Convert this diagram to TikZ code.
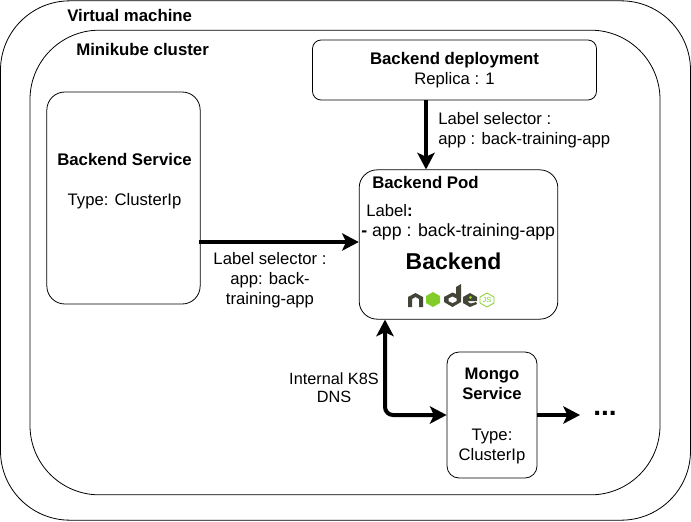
\documentclass[tikz,border=0pt]{standalone}
\usepackage{fontspec}
\setmainfont{Liberation Sans}
\usetikzlibrary{arrows.meta}
\definecolor{boxline}{RGB}{0,0,0}
\definecolor{nodedark}{RGB}{68,68,56}
\definecolor{nodegreen}{RGB}{131,205,41}

\begin{document}
\begin{tikzpicture}[
  x=0.75pt, y=-0.75pt,
  framebox/.style={draw=boxline, fill=white, line width=0.6pt, inner sep=0pt},
  roundbox/.style={framebox, rounded corners=13.5pt},
  heading/.style={font=\fontsize{12.6}{15}\selectfont\bfseries, inner sep=0pt, anchor=west},
  note/.style={font=\fontsize{12.5}{15}\selectfont, align=center, inner sep=0pt},
  flow/.style={line width=3pt, -{Stealth[length=12.5pt,width=13pt,inset=3pt]}}
]
  \useasboundingbox (0,0) rectangle (691,521);

  % nested frames
  \node[framebox, rounded corners=52pt, minimum width=517.5pt, minimum height=389.5pt] (vm) at (345.5,260.5) {};
  \node[framebox, rounded corners=52pt, minimum width=472.5pt, minimum height=348.5pt] (cluster) at (345,262.5) {};
  \node[heading] (vmtitle) at (67,15) {Virtual machine};
  \node[heading] (clustertitle) at (76,49) {Minikube cluster};

  % boxes
  \node[roundbox, minimum width=213pt, minimum height=45pt, rounded corners=6.5pt] (deploy) at (454.5,70) {};
  \node[note] (deploytext) at (454.5,70) {{\fontsize{12.6}{15}\selectfont\textbf{Backend deployment}}\\Replica : 1};
  \node[roundbox, minimum width=115pt, minimum height=159pt] (svc) at (123.5,198) {};
  \node[note] (svctext) at (124.5,181) {{\fontsize{12.6}{15}\selectfont\textbf{Backend Service}}\\[15pt]Type: ClusterIp};
  \node[roundbox, minimum width=149pt, minimum height=112pt] (pod) at (458.5,244.5) {};
  \node[roundbox, minimum width=67.5pt, minimum height=94.5pt, rounded corners=9pt] (mongo) at (492,415) {};
  \node[note] (mongotext) at (492,416) {\textbf{Mongo}\\\textbf{Service}\\[15.5pt]Type:\\ClusterIp};

  % pod contents
  \node[heading] (podtitle) at (372,182) {Backend Pod};
  \node[note, anchor=west] (podlabel) at (366,211) {Label\textbf{:}};
  \node[note, anchor=west, font=\fontsize{13.3}{15}\selectfont] (podapp) at (361,232) {\textbf{-} app : back-training-app};
  \node[note, font=\fontsize{17.2}{18}\selectfont\bfseries] (podname) at (453.5,261) {Backend};

  % logo
  \begin{scope}[shift={(408,284)}]
    \fill[nodedark] (0,23) -- (0,13) -- (7.5,9) -- (15,13) -- (15,23) -- (11,23) -- (11,15) -- (7.5,13) -- (4,15) -- (4,23) -- cycle;
    \fill[nodegreen] (25,8) -- (32,12) -- (32,19) -- (25,23) -- (18,19) -- (18,12) -- cycle;
    \fill[nodedark] (53,0) -- (53,18) -- (44.5,23) -- (36,18) -- (36,13) -- (44.5,8.5) -- (48,10) -- (48,3) -- cycle;
    \fill[white] (44.5,12.5) -- (48.5,14.5) -- (48.5,17) -- (44.5,19) -- (40.5,17) -- (40.5,14.5) -- cycle;
    \fill[nodedark] (62,9) -- (69,13) -- (69,17) -- (60,17) -- (60,18) -- (63,19.5) -- (68,18) -- (69,20) -- (62,23) -- (55,19) -- (55,13) -- cycle;
    \fill[nodegreen] (62.5,13.5) circle (1.7);
    \draw[nodegreen, line width=0.6pt] (79,9) -- (86,13) -- (86,19) -- (79,23) -- (72,19) -- (72,13) -- cycle;
    \node[text=nodegreen, inner sep=0pt, font=\fontsize{5.5}{6}\selectfont] (logojs) at (79,16) {JS};
  \end{scope}

  % connectors
  \draw[flow] (deploy.south -| 426,0) -- (pod.north -| 426,0);
  \draw[flow] ([xshift=-1.5pt]svc.east |- 0,242) -- (pod.west |- 0,242);
  \draw[line width=3pt, {Stealth[length=12.5pt,width=13pt,inset=3pt]}-{Stealth[length=12.5pt,width=13pt,inset=3pt]}, rounded corners=6pt]
    (pod.south -| 385,0) |- (mongo.west);
  \node[inner sep=0pt, font=\fontsize{21}{22}\selectfont\bfseries] (more) at (605,413.5) {...};
  \coordinate (moreend) at (580,415);
  \draw[flow] (mongo.east) -- (moreend);

  % labels
  \node[note, anchor=west, align=left] (deploysel) at (438,130) {Label selector :\\app : back-training-app};
  \node[note] (svcsel) at (270,280) {Label selector :\\app: back-\\training-app};
  \node[note, font=\fontsize{12.2}{13.5}\selectfont] (dnslabel) at (334,388) {Internal K8S\\DNS};
\end{tikzpicture}
\end{document}
